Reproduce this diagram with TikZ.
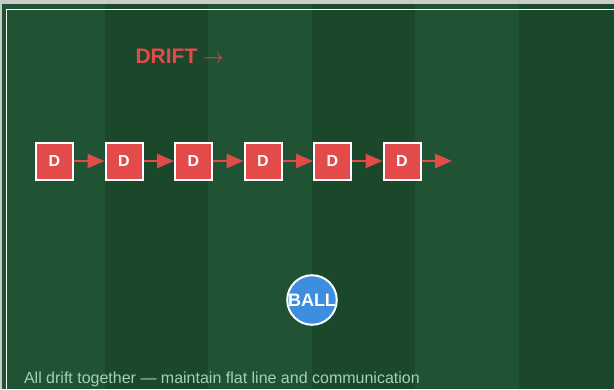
\documentclass[tikz,border=0pt]{standalone}
\usepackage{fontspec}
\setmainfont{Liberation Sans}
\usetikzlibrary{arrows.meta}
\definecolor{turfA}{HTML}{205234}
\definecolor{turfB}{HTML}{1B472B}
\definecolor{driftred}{HTML}{E24B4A}
\definecolor{ballblue}{HTML}{3E8EE0}
\definecolor{notegreen}{HTML}{A3D3B2}
\definecolor{edgegrey}{HTML}{C9CCC9}
\tikzset{
  player/.style={draw=white, line width=2pt, fill=driftred, minimum size=37pt,
    inner sep=0pt, text=white, font=\fontsize{16}{16}\selectfont\bfseries},
  drift/.style={driftred, line width=2.5pt, -{Triangle[length=17pt,width=14pt]}},
  ball/.style={circle, draw=white, line width=2pt, fill=ballblue, minimum size=43pt,
    inner sep=0pt, text=white, font=\fontsize{18}{18}\selectfont\bfseries},
}
\begin{document}
\begin{tikzpicture}[x=1pt,y=-1pt]
\useasboundingbox (0,0) rectangle (614,389);
\fill[edgegrey] (0,0) rectangle (614,389);
\fill[turfA] (2,4) rectangle (105,389);
\fill[turfB] (105,4) rectangle (208,389);
\fill[turfA] (208,4) rectangle (312,389);
\fill[turfB] (312,4) rectangle (415,389);
\fill[turfA] (415,4) rectangle (519,389);
\fill[turfB] (519,4) rectangle (614,389);
\draw[white, line width=1.5pt] (620,9.5) -- (6.5,9.5) -- (6.5,395);
\node[font=\fontsize{21}{21}\selectfont\bfseries, text=driftred, anchor=west] (title) at (132,56) {DRIFT $\rightarrow$};
\node[player] (d1) at (54.5,161) {D};
\node[player] (d2) at (124,161) {D};
\node[player] (d3) at (193.5,161) {D};
\node[player] (d4) at (263,161) {D};
\node[player] (d5) at (332.5,161) {D};
\node[player] (d6) at (402,161) {D};
\coordinate (front) at (452,161);
\draw[drift] (d1) -- (d2);
\draw[drift] (d2) -- (d3);
\draw[drift] (d3) -- (d4);
\draw[drift] (d4) -- (d5);
\draw[drift] (d5) -- (d6);
\draw[drift] (d6) -- (front);
\node[ball] (ball) at (312,300) {BALL};
\node[font=\fontsize{16}{16}\selectfont, text=notegreen, anchor=west] (note) at (20.5,379) {All drift together — maintain flat line and communication};
\end{tikzpicture}
\end{document}
